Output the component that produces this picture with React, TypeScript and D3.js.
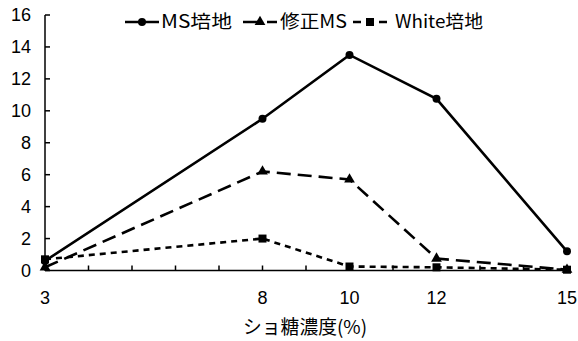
import React from "react";
import * as d3 from "d3";

const xValues = [3, 8, 10, 12, 15];
const msValues = [0.6, 9.5, 13.5, 10.75, 1.2];
const modMsValues = [0.2, 6.2, 5.7, 0.75, 0.05];
const whiteValues = [0.7, 2.0, 0.25, 0.2, 0.05];
const yTicks = [0, 2, 4, 6, 8, 10, 12, 14, 16];
const xMinorTicks = d3.range(3, 16);
const seriesNames = ["MS培地", "修正MS", "White培地"];

const W = 578;
const H = 341;
const x = d3.scaleLinear().domain([3, 15]).range([45, 567]);
const y = d3.scaleLinear().domain([0, 16]).range([270.5, 15]);

const font = "'Liberation Sans Narrow', 'Liberation Sans', Arial, sans-serif";
const jfont = "'Noto Sans CJK JP', sans-serif";

type Marker = "circle" | "triangle" | "square";

function MarkerShape({ cx, cy, m }: { cx: number; cy: number; m: Marker }) {
  if (m === "circle") return <circle cx={cx} cy={cy} r={4} fill="#000" />;
  if (m === "triangle") {
    const s = d3.symbol(d3.symbolTriangle, 50)();
    return <path d={s || ""} transform={`translate(${cx},${cy})`} fill="#000" />;
  }
  return <rect x={cx - 4} y={cy - 4} width={8} height={8} fill="#000" />;
}

export default function App() {
  const line = d3
    .line<[number, number]>()
    .x((d) => x(d[0]))
    .y((d) => y(d[1]));
  const series: { vals: number[]; dash: string; m: Marker }[] = [
    { vals: msValues, dash: "none", m: "circle" },
    { vals: modMsValues, dash: "14,7", m: "triangle" },
    { vals: whiteValues, dash: "6,5", m: "square" },
  ];
  const legend = [
    { lx: 125, tx: 161, tw: 71, dash: "none" },
    { lx: 243, tx: 280, tw: 67, dash: "18,6" },
    { lx: 353, tx: 395, tw: 88, dash: "8,5" },
  ];
  return (
    <svg width={W} height={H} style={{ position: "absolute", left: 0, top: 0, background: "#fff" }}>
      <rect width={W} height={H} fill="#fff" />
      {series.map((s, i) => (
        <g key={i}>
          <path
            d={line(xValues.map((xv, j) => [xv, s.vals[j]]) as [number, number][]) || ""}
            fill="none"
            stroke="#000"
            strokeWidth={2.6}
            strokeDasharray={s.dash}
          />
          {xValues.map((xv, j) => (
            <MarkerShape key={j} cx={x(xv)} cy={y(s.vals[j])} m={s.m} />
          ))}
        </g>
      ))}
      {/* axes */}
      <line x1={45} x2={45} y1={y(16)} y2={y(0)} stroke="#000" strokeWidth={1.5} />
      <line x1={45} x2={567} y1={y(0)} y2={y(0)} stroke="#000" strokeWidth={1.5} />
      {yTicks.map((t) => (
        <g key={t}>
          <line x1={45} x2={50} y1={y(t)} y2={y(t)} stroke="#000" strokeWidth={1.5} />
          <text x={31} y={y(t)} dy="0.36em" textAnchor="end" fontFamily={font} fontSize={18}>
            {t}
          </text>
        </g>
      ))}
      {xMinorTicks.map((t) => (
        <line key={t} x1={x(t)} x2={x(t)} y1={y(0)} y2={y(0) - 5} stroke="#000" strokeWidth={1.5} />
      ))}
      {xValues.map((t) => (
        <text key={t} x={x(t)} y={304} textAnchor="middle" fontFamily={font} fontSize={18}>
          {t}
        </text>
      ))}
      <text
        x={243}
        y={334}
        fontFamily={jfont}
        fontSize={19}
        textLength={124}
        lengthAdjust="spacingAndGlyphs"
      >
        ショ糖濃度(%)
      </text>
      {/* legend */}
      {series.map((s, i) => (
        <g key={i}>
          <line
            x1={legend[i].lx}
            x2={legend[i].lx + 34}
            y1={22}
            y2={22}
            stroke="#000"
            strokeWidth={2.6}
            strokeDasharray={legend[i].dash}
          />
          <MarkerShape cx={legend[i].lx + 17} cy={22} m={s.m} />
          <text
            x={legend[i].tx}
            y={22}
            dy="0.36em"
            fontFamily={jfont}
            fontSize={18}
            textLength={legend[i].tw}
            lengthAdjust="spacingAndGlyphs"
          >
            {seriesNames[i]}
          </text>
        </g>
      ))}
    </svg>
  );
}
